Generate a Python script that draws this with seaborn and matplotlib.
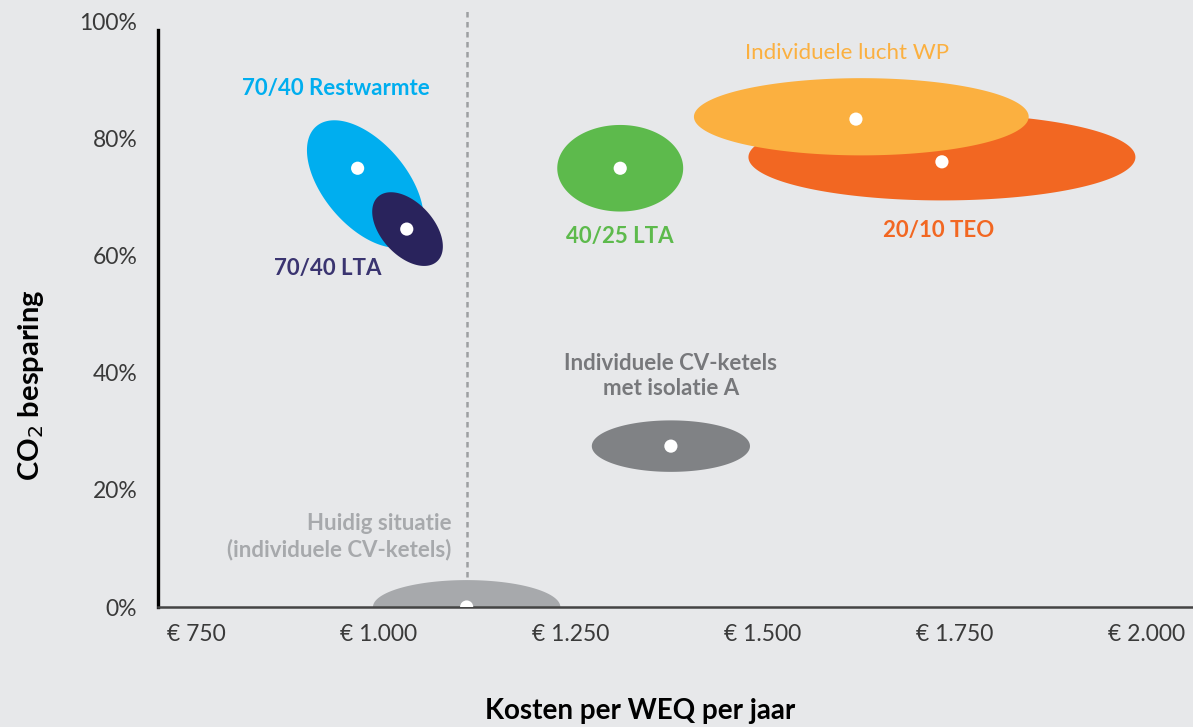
import numpy as np
import pandas as pd
import matplotlib
matplotlib.use("Agg")
import matplotlib.pyplot as plt
import seaborn as sns

# -----------------------------
# Data
# -----------------------------
OPTIES = [
    "70/40 Restwarmte",
    "70/40 LTA",
    "40/25 LTA",
    "Individuele lucht WP",
    "20/10 TEO",
    "Individuele CV-ketels\nmet isolatie A",
    "Huidig situatie\n(individuele CV-ketels)",
]
# kosten (EUR per WEQ per jaar) en CO2-besparing (%) van het middenpunt
PUNT_KOSTEN = [922, 986, 1264, 1571, 1683, 1330, 1064]
PUNT_CO2    = [75.0, 64.6, 75.0, 83.4, 76.1, 27.5, 0.0]
# bandbreedte: midden, halve spreiding en correlatie (scheefstand)
BAND_KOSTEN = [932, 987, 1264, 1578, 1683, 1330, 1064]
BAND_CO2    = [72.3, 64.6, 75.0, 83.8, 76.9, 27.5, 0.0]
SPREID_KOSTEN = [76, 46, 82, 218, 252, 103, 122]
SPREID_CO2    = [10.9, 6.3, 7.4, 6.6, 7.4, 4.4, 4.6]
CORRELATIE    = [-0.53, -0.47, 0, 0, 0, 0, 0]

HUIDIG_KOSTEN = 1064
X_TICKS = [750, 1000, 1250, 1500, 1750, 2000]
X_TICK_LABELS = ["€ 750", "€ 1.000", "€ 1.250", "€ 1.500", "€ 1.750", "€ 2.000"]
Y_TICKS = [0, 20, 40, 60, 80, 100]
Y_TICK_LABELS = ["0%", "20%", "40%", "60%", "80%", "100%"]

# -----------------------------
# Stijl
# -----------------------------
BG = "#e7e8ea"
KLEUREN = ["#00aeef", "#29235c", "#5dba4c", "#fbb040", "#f26722", "#808285", "#a7a9ac"]
TEKST_KLEUREN = ["#00aeef", "#3a3470", "#5dba4c", "#fbb040", "#f26722", "#77787b", "#a7a9ac"]
TEKST_GEWICHT = ["bold", "bold", "bold", "normal", "bold", "bold", "bold"]
# volgorde van tekenen (onderste eerst)
VOLGORDE = [6, 5, 0, 1, 2, 4, 3]
# label-offsets in pixels t.o.v. het midden van de bandbreedte
LABEL_OFFSET = [(-29, 96), (-80, -39), (0, -68), (-14, 64), (-3, -73), (0, 70), (-15, 70)]
LABEL_HA = ["center", "center", "center", "center", "center", "center", "right"]

sns.set_theme(style="white", rc={
    "axes.facecolor": BG,
    "figure.facecolor": BG,
})
plt.rcParams["font.family"] = ["Lato", "DejaVu Sans"]

fig = plt.figure(figsize=(11.93, 7.27), dpi=100)
ax = fig.add_axes([158 / 1193, 1 - 607 / 727, 1 - 158 / 1193, (607 - 22) / 727])
ax.set_xlim(662, 2010)
ax.set_ylim(0, 100)

# ── bandbreedtes als ellipsen ──
t = np.linspace(0, 2 * np.pi, 300)
for i in VOLGORDE:
    rho = CORRELATIE[i]
    xs = BAND_KOSTEN[i] + SPREID_KOSTEN[i] * np.cos(t)
    ys = BAND_CO2[i] + SPREID_CO2[i] * (rho * np.cos(t) + np.sqrt(1 - rho ** 2) * np.sin(t))
    ax.fill(xs, ys, color=KLEUREN[i], lw=0, zorder=2)

# ── huidige situatie: stippellijn ──
ax.axvline(HUIDIG_KOSTEN, ymin=0, ymax=1.02, color="#9d9fa2", lw=1.8,
           linestyle=(0, (2.2, 1.8)), zorder=1, clip_on=False)

# ── witte middenpunten ──
df = pd.DataFrame({"kosten": PUNT_KOSTEN, "co2": PUNT_CO2, "optie": OPTIES})
sns.scatterplot(data=df, x="kosten", y="co2", ax=ax, color="white",
                s=90, edgecolor="none", zorder=4, legend=False)

# ── labels ──
for i, naam in enumerate(OPTIES):
    ax.annotate(naam, (BAND_KOSTEN[i], BAND_CO2[i]),
                xytext=LABEL_OFFSET[i], textcoords="offset pixels",
                ha=LABEL_HA[i], va="center", fontsize=16, fontweight=TEKST_GEWICHT[i],
                color=TEKST_KLEUREN[i], linespacing=1.25,
                multialignment=LABEL_HA[i], annotation_clip=False)

# ── assen ──
ax.set_xticks(X_TICKS)
ax.set_xticklabels(X_TICK_LABELS, ha="right")
ax.set_yticks(Y_TICKS)
ax.set_yticklabels(Y_TICK_LABELS)
ax.tick_params(axis="both", length=0, labelsize=16.5, labelcolor="#3a3a3a")
ax.tick_params(axis="x", pad=12)
ax.tick_params(axis="y", pad=15)

for s in ["top", "right"]:
    ax.spines[s].set_visible(False)
ax.spines["left"].set_color("black")
ax.spines["left"].set_linewidth(2.4)
ax.spines["left"].set_bounds(0, 98.6)
ax.spines["bottom"].set_color("#444444")
ax.spines["bottom"].set_linewidth(1.8)

ax.set_xlabel("Kosten per WEQ per jaar", fontsize=20, fontweight="bold", color="black")
ax.xaxis.set_label_coords(0.4657, -0.155)
ax.set_ylabel("CO$_2$ besparing", fontsize=21, fontweight="bold", color="black")
ax.yaxis.set_label_coords(-0.108, 0.38)

fig.savefig("out.png", dpi=100, facecolor=BG)
